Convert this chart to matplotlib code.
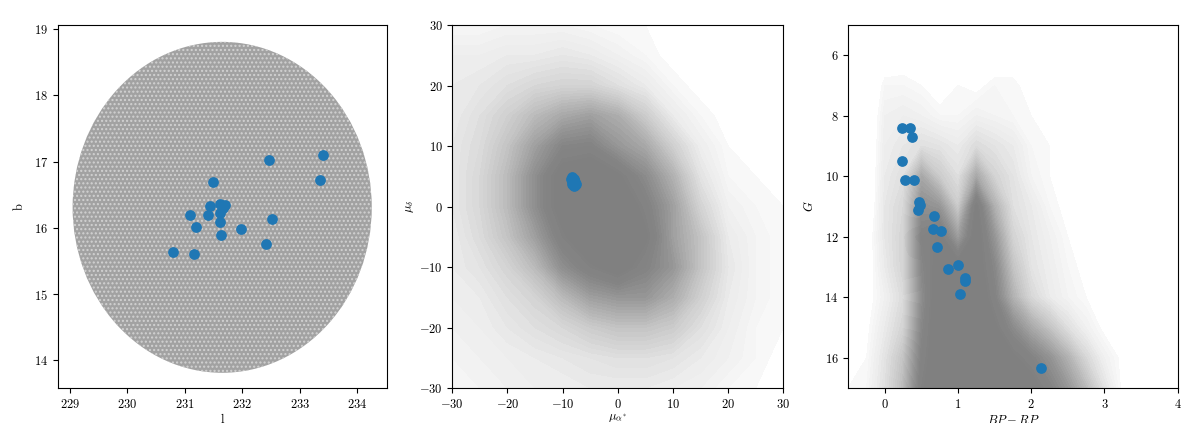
import numpy as np
import matplotlib
matplotlib.use("Agg")
import matplotlib.pyplot as plt
from matplotlib.patches import Ellipse
from matplotlib.colors import LinearSegmentedColormap

plt.rcParams['font.family'] = ['cmr10', 'DejaVu Serif']
plt.rcParams['mathtext.fontset'] = 'cm'
plt.rcParams['axes.formatter.use_mathtext'] = True
plt.rcParams['font.size'] = 9

# cluster members (blue)
memb_l = [232.47, 233.40, 233.35, 231.49, 231.44, 231.61, 231.70, 231.41, 231.61, 231.61,
          231.09, 231.19, 231.63, 231.98, 232.51, 232.41, 230.79, 231.16, 231.66]
memb_b = [17.02, 17.10, 16.72, 16.70, 16.33, 16.36, 16.35, 16.20, 16.23, 16.09,
          16.19, 16.01, 15.89, 15.99, 16.13, 15.75, 15.63, 15.61, 16.30]
memb_pmra = [-8.3, -8.1, -8.0, -8.4, -7.9, -8.2, -7.7, -8.3, -8.0, -7.8,
             -8.1, -8.2, -7.6, -8.0, -8.3, -7.9, -8.1, -7.7, -8.0]
memb_pmdec = [4.8, 4.3, 3.9, 4.5, 3.6, 4.0, 4.0, 3.8, 4.6, 3.5,
              4.2, 3.6, 3.8, 3.4, 4.2, 4.4, 3.7, 3.6, 4.1]
memb_bprp = [0.237, 0.347, 0.365, 0.237, 0.274, 0.402, 0.461, 0.484, 0.452, 0.676,
             0.658, 0.772, 0.712, 0.858, 1.005, 1.096, 1.096, 1.023, 2.137]
memb_g = [8.39, 8.41, 8.70, 9.50, 10.13, 10.12, 10.85, 10.96, 11.13, 11.33,
          11.73, 11.80, 12.35, 13.08, 12.95, 13.35, 13.46, 13.88, 16.33]

# field of view (degrees)
field_l0, field_b0, field_radius = 231.65, 16.31, 2.5

# field star density (0 empty .. 4 saturated)
pm_x = [-30, -25, -20, -15, -10, -5, 0, 5, 10, 15, 20, 25, 30]
pm_y = [30, 25, 20, 15, 10, 5, 0, -5, -10, -15, -20, -25, -30]
pm_density = [
    [0.6, 0.6, 0.7, 0.7, 0.7, 0.6, 0.5, 0.5, 0.3, 0.2, 0.2, 0.1, 0.1],
    [0.9, 0.9, 1.0, 1.0, 1.1, 1.0, 0.8, 0.6, 0.4, 0.3, 0.2, 0.1, 0.1],
    [1.0, 1.1, 1.3, 1.5, 1.6, 1.6, 1.3, 1.0, 0.6, 0.4, 0.3, 0.2, 0.1],
    [1.0, 1.3, 1.7, 2.2, 2.6, 2.8, 2.5, 1.8, 1.0, 0.6, 0.4, 0.3, 0.2],
    [1.1, 1.4, 2.0, 2.8, 3.5, 3.6, 3.0, 2.6, 1.7, 0.9, 0.5, 0.4, 0.3],
    [1.1, 1.5, 2.2, 3.2, 4.2, 4.4, 4.0, 3.3, 2.4, 1.2, 0.6, 0.5, 0.4],
    [1.1, 1.5, 2.2, 3.2, 4.2, 4.5, 4.5, 3.7, 2.8, 1.6, 0.8, 0.6, 0.5],
    [1.0, 1.4, 2.0, 2.8, 3.8, 4.5, 4.5, 4.0, 2.8, 2.0, 1.0, 0.7, 0.5],
    [1.0, 1.2, 1.6, 2.2, 3.2, 3.8, 4.2, 3.6, 3.0, 2.0, 1.1, 0.7, 0.5],
    [0.9, 1.0, 1.3, 1.6, 2.2, 2.8, 3.0, 3.0, 2.5, 1.7, 1.0, 0.7, 0.5],
    [0.8, 0.9, 1.1, 1.3, 1.5, 1.8, 2.0, 2.0, 1.8, 1.3, 0.9, 0.6, 0.5],
    [0.7, 0.8, 0.9, 1.0, 1.1, 1.2, 1.3, 1.3, 1.2, 1.0, 0.8, 0.6, 0.4],
    [0.6, 0.7, 0.8, 0.9, 0.9, 1.0, 1.0, 1.0, 0.9, 0.8, 0.6, 0.5, 0.3],
]

cmd_x = [-0.5, -0.25, 0, 0.25, 0.5, 0.75, 1.0, 1.25, 1.5, 1.75, 2.0, 2.25, 2.5, 2.75,
         3.0, 3.25, 3.5, 3.75, 4.0]
cmd_g = [5, 6, 7, 8, 9, 10, 11, 12, 13, 14, 15, 16, 17]
cmd_density = [
    [0, 0, 0, 0, 0, 0, 0, 0, 0, 0, 0, 0, 0, 0, 0, 0, 0, 0, 0],
    [0, 0, 0.2, 0.3, 0.3, 0.2, 0.2, 0.3, 0.2, 0.2, 0, 0, 0, 0, 0, 0, 0, 0, 0],
    [0, 0, 0.6, 0.6, 0.5, 0.3, 0.5, 0.4, 0.6, 0.6, 0.3, 0, 0, 0, 0, 0, 0, 0, 0],
    [0, 0, 0.8, 0.9, 0.8, 0.6, 0.6, 0.8, 0.7, 0.6, 0.5, 0.4, 0.2, 0, 0, 0, 0, 0, 0],
    [0, 0, 0.9, 1.1, 1.3, 1.2, 1.0, 1.4, 1.2, 1.0, 0.6, 0.5, 0.3, 0.2, 0, 0, 0, 0, 0],
    [0, 0, 1.0, 1.3, 2.6, 1.8, 1.3, 2.6, 1.6, 1.2, 0.7, 0.5, 0.4, 0.3, 0.2, 0, 0, 0, 0],
    [0, 0, 1.1, 1.5, 3.2, 3.0, 1.8, 4.0, 2.4, 1.3, 1.0, 0.6, 0.4, 0.3, 0.2, 0.1, 0, 0, 0],
    [0, 0.2, 1.1, 1.6, 3.6, 4.0, 2.8, 4.2, 3.0, 1.6, 1.1, 0.8, 0.5, 0.3, 0.2, 0.1, 0, 0, 0],
    [0, 0.2, 1.0, 1.6, 3.4, 4.2, 4.2, 4.2, 3.4, 2.0, 1.2, 0.9, 0.6, 0.4, 0.2, 0, 0, 0, 0],
    [0, 0.3, 0.8, 1.4, 3.2, 4.4, 4.4, 4.4, 3.6, 2.4, 1.5, 1.0, 0.7, 0.5, 0.3, 0, 0, 0, 0],
    [0.3, 0.4, 1.0, 1.6, 3.4, 4.4, 4.4, 4.4, 4.0, 3.3, 2.6, 2.0, 1.3, 0.8, 0.4, 0.2, 0, 0, 0],
    [0.4, 0.5, 1.2, 2.0, 3.6, 4.4, 4.4, 4.4, 4.4, 4.0, 3.6, 3.1, 2.4, 1.5, 0.8, 0.4, 0.2, 0, 0],
    [0.5, 0.6, 1.3, 2.2, 3.8, 4.5, 4.5, 4.5, 4.5, 4.4, 4.2, 3.6, 3.0, 2.2, 1.2, 0.4, 0.2, 0.1, 0],
]

# density -> grey shade of the point cloud
star_grey = LinearSegmentedColormap.from_list(
    'stars', [(0.0, '#ffffff'), (0.125, '#f9f9f9'), (0.25, '#ebebeb'), (0.5, '#c4c4c4'),
              (0.75, '#979797'), (0.875, '#858585'), (1.0, '#808080')])
levels = list(np.arange(0.5, 4.01, 0.1)) + [9]
blue = '#1f77b4'

fig = plt.figure(figsize=(12, 4.23), dpi=100)
ax1 = fig.add_axes([0.0483, 0.0827, 0.2742, 0.8582])
ax2 = fig.add_axes([0.3769, 0.0827, 0.2758, 0.8582])
ax3 = fig.add_axes([0.7069, 0.0827, 0.2744, 0.8582])

# sky positions
half_l = field_radius / np.cos(np.radians(field_b0))
ax1.add_patch(Ellipse((field_l0, field_b0), 2 * half_l, 2 * field_radius,
                      facecolor='#a2a2a2', edgecolor='#d2d2d2', linewidth=0,
                      hatch='....', zorder=1))
ax1.scatter(memb_l, memb_b, s=45, color=blue, zorder=3)
ax1.set_xlim(228.79, 234.52)
ax1.set_ylim(13.58, 19.065)
ax1.set_xticks([229, 230, 231, 232, 233, 234])
ax1.set_yticks([14, 15, 16, 17, 18, 19])
ax1.set_xlabel('l', labelpad=2)
ax1.set_ylabel('b', labelpad=6)

# proper motions
pm_xx, pm_yy = np.meshgrid(pm_x, pm_y)
ax2.contourf(pm_xx, pm_yy, np.array(pm_density), levels=levels,
             cmap=star_grey, vmin=0, vmax=4, zorder=1)
ax2.scatter(memb_pmra, memb_pmdec, s=45, color=blue, zorder=3)
ax2.set_xlim(-30, 30)
ax2.set_ylim(-30, 30)
ax2.set_xlabel(r'$\mu_{\alpha^*}$', labelpad=1)
ax2.set_ylabel(r'$\mu_\delta$', labelpad=2)

# colour-magnitude diagram
cmd_xx, cmd_gg = np.meshgrid(cmd_x, cmd_g)
ax3.contourf(cmd_xx, cmd_gg, np.array(cmd_density), levels=levels,
             cmap=star_grey, vmin=0, vmax=4, zorder=1)
ax3.scatter(memb_bprp, memb_g, s=45, color=blue, zorder=3)
ax3.set_xlim(-0.5, 4)
ax3.set_ylim(17, 5)
ax3.set_xticks([0, 1, 2, 3, 4])
ax3.set_yticks([6, 8, 10, 12, 14, 16])
ax3.set_xlabel(r'$BP-RP$', labelpad=2)
ax3.set_ylabel(r'$G$', labelpad=6)

fig.savefig('out.png', dpi=100)
